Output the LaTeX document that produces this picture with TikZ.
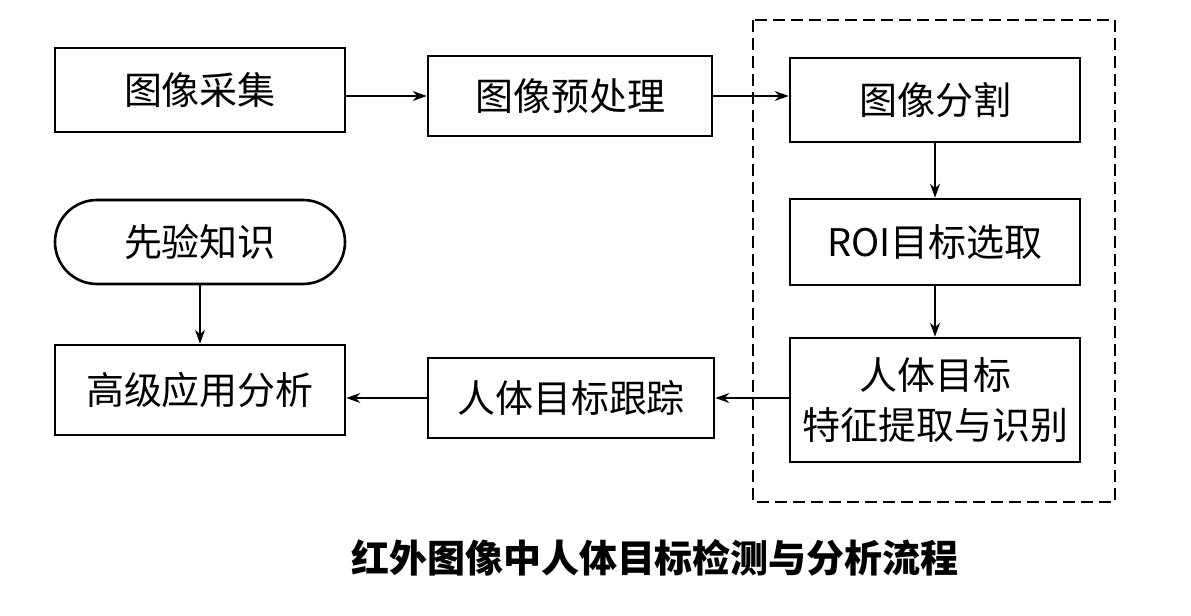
\documentclass[tikz,border=0pt]{standalone}
\usepackage{fontspec}
\newfontfamily\cjk{Noto Sans CJK SC}
\usetikzlibrary{arrows.meta}

\begin{document}
\begin{tikzpicture}[x=0.5pt,y=-0.5pt,
    every node/.style={font=\cjk\fontsize{19}{25}\selectfont, align=center},
    box/.style={draw, line width=1.3pt, minimum width=145pt, minimum height=42pt},
    arr/.style={-{Stealth[length=7pt,width=5pt]}, line width=0.8pt}]
    \useasboundingbox (0,0) rectangle (1191,616);
    \node[box] (cj) at (200,90) {图像采集};
    \node[box, minimum width=142pt, minimum height=40pt] (yc) at (570,96) {图像预处理};
    \node[box] (fg) at (935,100) {图像分割};
    \node[box, minimum height=43pt] (roi) at (935,242) {ROI目标选取};
    \node[box, minimum height=62pt] (tz) at (935,400) {人体目标\\特征提取与识别};
    \node[box, minimum width=143pt, minimum height=40pt] (gz) at (571,398) {人体目标跟踪};
    \node[box, minimum height=45pt] (fx) at (200,390) {高级应用分析};
    \node[box, rounded corners=21pt] (zs) at (200,242) {先验知识};
    \node[font=\cjk\bfseries\fontsize{19}{25}\selectfont] (cap) at (655,558) {红外图像中人体目标检测与分析流程};
    \draw[dash pattern=on 6pt off 3pt, line width=1pt] (753,20) rectangle (1115,502);
    \draw[arr] (cj.east |- yc) -- (yc);
    \draw[arr] (yc) -- (fg.west |- yc);
    \draw[arr] (fg) -- (roi);
    \draw[arr] (roi) -- (tz);
    \draw[arr] (tz.west |- gz) -- (gz);
    \draw[arr] (gz) -- (fx.east |- gz);
    \draw[arr] (zs) -- (fx);
\end{tikzpicture}
\end{document}
